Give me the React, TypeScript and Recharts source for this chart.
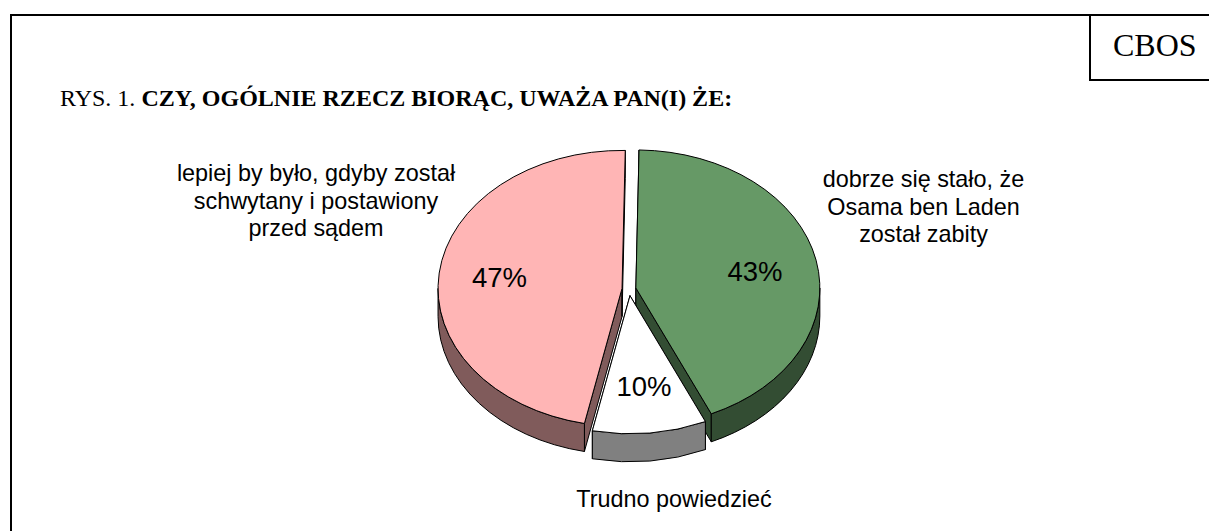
import { Pie, PieChart } from "recharts";

// Values, clockwise from the top
const categories = [
  "dobrze się stało, że Osama ben Laden został zabity",
  "Trudno powiedzieć",
  "lepiej by było, gdyby został schwytany i postawiony przed sądem",
];
const shares = [43, 10, 47];
const percentLabels = ["43%", "10%", "47%"];
const categoryLines = [
  ["dobrze się stało, że", "Osama ben Laden", "został zabity"],
  ["Trudno powiedzieć"],
  ["lepiej by było, gdyby został", "schwytany i postawiony", "przed sądem"],
];

const topColors = ["#669966", "#FFFFFF", "#FFB5B5"];
const sideColors = ["#334D33", "#808080", "#805B5B"];
const explodes = [7, 9, 7];

// label anchors relative to the pie centre
const percentPos = [
  [126, -8],
  [15, 107],
  [-129.5, -2],
];
const categoryPos = [
  [294.5, -102],
  [45, 217.5],
  [-313, -108],
];

const WIDTH = 1209;
const HEIGHT = 531;
const RX = 184;
const TILT = 0.75;
const DEPTH = 28;

const chartData = categories.map((name, i) => ({
  name,
  value: shares[i],
  fill: topColors[i],
  side: sideColors[i],
  explode: explodes[i],
  index: i,
}));

const rad = (deg: number) => (deg * Math.PI) / 180;

// Tilted, extruded wedge: the angles come from the Pie's own layout
const Wedge3D = (props: any) => {
  const { cx, cy, startAngle, endAngle, outerRadius, payload } = props;
  const { fill, side, explode } = payload;
  const ry = outerRadius * TILT;
  const mid = rad((startAngle + endAngle) / 2);
  const ox = cx + explode * Math.cos(mid);
  const oy = cy - explode * TILT * Math.sin(mid);
  const pt = (deg: number, drop = 0) => [
    ox + outerRadius * Math.cos(rad(deg)),
    oy - ry * Math.sin(rad(deg)) + drop,
  ];
  const arcTo = (deg: number, from: number, drop = 0, sweep = 1) => {
    const [x, y] = pt(deg, drop);
    const large = Math.abs(from - deg) > 180 ? 1 : 0;
    return `A${outerRadius} ${ry} 0 ${large} ${sweep} ${x} ${y}`;
  };
  const [sx, sy] = pt(startAngle);
  const [ex, ey] = pt(endAngle);

  const wall = (x: number, y: number) =>
    `M${ox} ${oy}L${x} ${y}L${x} ${y + DEPTH}L${ox} ${oy + DEPTH}Z`;

  // only the near half of the rim is visible
  const a0 = Math.min(startAngle, 0);
  const a1 = Math.max(endAngle, -180);
  let rim = "";
  if (a0 > a1) {
    const [x0, y0] = pt(a0);
    const [x1, y1] = pt(a1, DEPTH);
    rim = `M${x0} ${y0}${arcTo(a1, a0)}L${x1} ${y1}${arcTo(a0, a1, DEPTH, 0)}Z`;
  }

  return (
    <g stroke="#000" strokeWidth={1} strokeLinejoin="round">
      <path d={wall(sx, sy)} fill={side} />
      <path d={wall(ex, ey)} fill={side} />
      {rim && <path d={rim} fill={side} />}
      <path
        d={`M${ox} ${oy}L${sx} ${sy}${arcTo(endAngle, startAngle)}Z`}
        fill={fill}
      />
    </g>
  );
};

const renderLabel = (props: any) => {
  const { cx, cy, index } = props;
  const [px, py] = percentPos[index];
  const [tx, ty] = categoryPos[index];
  return (
    <g fontFamily="'Liberation Sans', Arial, sans-serif" fill="#000">
      <text x={cx + px} y={cy + py} fontSize={27.5} textAnchor="middle">
        {percentLabels[index]}
      </text>
      {categoryLines[index].map((line, i) => (
        <text
          key={line}
          x={cx + tx}
          y={cy + ty + i * 27.5}
          fontSize={23.4}
          textAnchor="middle"
        >
          {line}
        </text>
      ))}
    </g>
  );
};

const App = () => (
  <div
    style={{
      position: "absolute",
      left: 0,
      top: 0,
      width: WIDTH,
      height: HEIGHT,
      overflow: "hidden",
      background: "#fff",
    }}
  >
    {/* page frame and CBOS box */}
    <div
      style={{
        position: "absolute",
        left: 10,
        top: 14,
        width: WIDTH,
        height: HEIGHT,
        border: "2px solid #000",
      }}
    />
    <div
      style={{
        position: "absolute",
        left: 1089,
        top: 14,
        width: WIDTH,
        height: 63,
        border: "2px solid #000",
      }}
    />
    <div
      style={{
        position: "absolute",
        left: 1113,
        top: 27,
        fontFamily: "'Liberation Serif', serif",
        fontSize: 32,
        lineHeight: "37px",
        color: "#000",
      }}
    >
      CBOS
    </div>
    <div
      style={{
        position: "absolute",
        left: 60,
        top: 84,
        fontFamily: "'Liberation Serif', serif",
        fontSize: 24,
        lineHeight: "28px",
        color: "#000",
        whiteSpace: "nowrap",
      }}
    >
      RYS. 1. <b>CZY, OGÓLNIE RZECZ BIORĄC, UWAŻA PAN(I) ŻE:</b>
    </div>
    <div style={{ position: "absolute", left: 0, top: 0 }}>
      <PieChart
        width={WIDTH}
        height={HEIGHT}
        margin={{ top: 0, right: 0, bottom: 0, left: 0 }}
      >
        <Pie
          data={chartData}
          dataKey="value"
          nameKey="name"
          cx={629}
          cy={289}
          innerRadius={0}
          outerRadius={RX}
          startAngle={89}
          endAngle={-271}
          paddingAngle={0}
          stroke="none"
          shape={Wedge3D}
          label={renderLabel}
          labelLine={false}
          isAnimationActive={false}
        />
      </PieChart>
    </div>
  </div>
);

export default App;
